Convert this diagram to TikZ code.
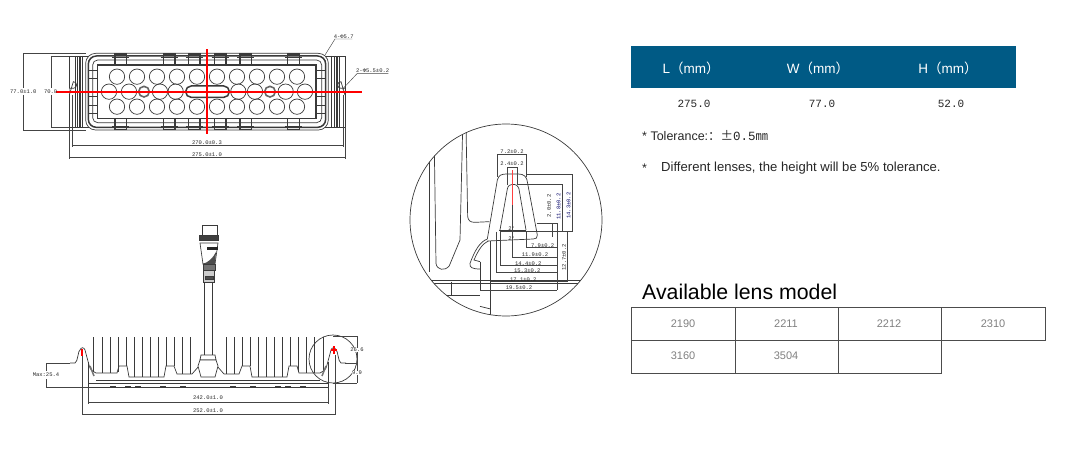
\documentclass[tikz,border=0pt]{standalone}
\usepackage{fontspec}
\setmainfont{Liberation Sans}
\newfontfamily\dimfont{Liberation Mono}
\newfontfamily\cjkfont{Noto Sans CJK SC}
\usetikzlibrary{calc}
\definecolor{headblue}{HTML}{005A85}
\definecolor{partline}{HTML}{3A3A3A}
\definecolor{dimline}{HTML}{444444}
\definecolor{cellgray}{HTML}{808080}
\tikzset{
	part/.style={draw=partline, line width=0.7pt},
	heavy/.style={draw=partline, line width=1.5pt},
	dimen/.style={draw=dimline, line width=0.45pt},
	redaxis/.style={draw=red, line width=1.3pt},
	dimtext/.style={font=\dimfont\fontsize{5.5}{6}\selectfont, text=black!85, inner sep=0pt},
	cell/.style={draw=black!70, line width=0.9pt},
	celltext/.style={font=\fontsize{11}{13}\selectfont, text=cellgray, inner sep=0pt},
	headtext/.style={font=\fontsize{13.5}{15}\selectfont, text=white, inner sep=0pt},
	valtext/.style={font=\dimfont\fontsize{11}{13}\selectfont, text=black!85, inner sep=0pt}
}
% left half of the side view, mirrored for the right half
\def\halfprofile{
	\draw[part] (70,363) -- (75,363) .. controls (78,362) and (78,350) .. (80,350) .. controls (81,347) and (84,347) .. (85,350) -- (89,365) .. controls (90,370) and (93,372) .. (96,373) -- (117,373) -- (119,366) -- (127,366) -- (129,377) -- (164,377) -- (166,366) -- (174,366) -- (177,374) -- (192,374) -- (199,366);
	\foreach \x/\y in {93/372,102/373,110/373,118/372,126/366,134/377,142/377,150/377,158/377,166/366,174/366,182/374,190/374}{
		\draw[part] (\x,337) -- (\x,\y);
	}
	\draw[part] (88,362) -- (88,387);
	\draw[heavy, draw=black!55] (90,366) -- (94,376);
	\foreach \x in {110,125,135,160,180}{
		\draw[part, line width=1pt] (\x,386) -- (\x+6,386);
	}
}
\begin{document}
\begin{tikzpicture}[x=1pt,y=-1pt]
	\useasboundingbox (0,0) rectangle (1080,463);
	%%%%% TOP VIEW %%%%%
	\begin{scope}[shift={(20,20)},scale=1/3]
		\draw[part] (148,108) rectangle (975,322);
		\draw[part, fill=white] (148,205) -- (160,205) arc (90:-90:10) -- (148,225);
		\draw[part, fill=white] (975,205) -- (963,205) arc (90:270:10) -- (975,225);
		\foreach \x in {172,180,188,935,943,951}{
			\draw[heavy] (\x,108) -- (\x,322);
		}
		\foreach \x in {165,958}{
			\draw[part] (\x,108) -- (\x,322);
		}
		\draw[part, fill=white, rounded corners=10pt] (197,100) rectangle (925,330);
		\draw[heavy, rounded corners=8pt] (205,108) rectangle (917,322);
		\draw[part, rounded corners=5pt] (218,120) rectangle (905,308);
		\draw[heavy] (232,135) rectangle (888,295);
		\foreach \x in {285,430,505,583,660,803}{
			\draw[heavy] (\x,102) rectangle (\x+35,135);
			\draw[heavy] (\x,295) rectangle (\x+35,328);
			\draw[part] (\x-8,112) -- (\x+43,112);
			\draw[part] (\x-8,318) -- (\x+43,318);
		}
		\foreach \y in {150,175,230,255,280}{
			\draw[part] (208,\y) -- (232,\y);
			\draw[part] (888,\y) -- (914,\y);
		}
		\foreach \x in {291,351,411,471,531,591,651,711,771,831}{
			\draw[part] (\x,170) circle (23);
			\draw[part] (\x,260) circle (23);
		}
		\foreach \x in {267,327,420,467,655,705,797,855}{
			\draw[part] (\x,215) circle (23);
		}
		\draw[draw=black!60, line width=1.6pt] (372,215) circle (16);
		\draw[draw=black!60, line width=1.6pt] (750,215) circle (16);
		\draw[heavy, rounded corners=5.5pt] (497,198) rectangle (628,232);
		% dimensions
		\draw[dimen] (10,100) -- (197,100);
		\draw[dimen] (10,330) -- (197,330);
		\draw[dimen] (10,100) -- (10,205);
		\draw[dimen] (10,225) -- (10,330);
		\draw[dimen] (93,108) -- (148,108);
		\draw[dimen] (93,322) -- (148,322);
		\draw[dimen] (93,108) -- (93,205);
		\draw[dimen] (93,225) -- (93,322);
		\draw[dimen] (158,225) -- (158,382);
		\draw[dimen] (970,225) -- (970,382);
		\draw[dimen] (158,377) -- (970,377);
		\draw[dimen] (148,322) -- (148,416);
		\draw[dimen] (975,322) -- (975,416);
		\draw[dimen] (148,413) -- (975,413);
		\draw[dimen] (915,105) -- (945,57) -- (997,57);
		\draw[dimen] (967,208) -- (1012,160) -- (1105,160);
		\draw[redaxis] (108,216) -- (1025,216);
		\draw[redaxis] (561,88) -- (561,342);
		\node[dimtext] (topwidth) at (10,215) {77.0±1.0};
		\node[dimtext] (topinner) at (92,215) {70.0};
		\node[dimtext] (toppitch) at (561,368) {270.0±0.3};
		\node[dimtext] (toplength) at (561,405) {275.0±1.0};
		\node[dimtext] (topcorner) at (971,50) {4-Φ5.7};
		\node[dimtext] (tophole) at (1058,153) {2-Φ5.5±0.2};
	\end{scope}
	%%%%% SIDE VIEW %%%%%
	\halfprofile
	\begin{scope}[xshift=416pt,xscale=-1]
		\halfprofile
	\end{scope}
	\draw[part] (88,383) -- (328,383);
	\draw[part] (88,387) -- (328,387);
	\draw[part] (96,380) -- (320,380);
	\draw[part] (328,362) -- (328,387);
	% connector and cable
	\draw[part] (204,282) -- (204,355);
	\draw[part] (212,282) -- (212,355);
	\draw[part] (202,225) rectangle (217,235);
	\draw[part, fill=black!75] (199,235) rectangle (218,240);
	\draw[part] (200,243) -- (218,243) -- (215,264) -- (203,264) -- cycle;
	\draw[fill=black!85, draw=none] (207,247) rectangle (218,250);
	\draw[fill=black!70, draw=none] (202,264) .. controls (208,263) and (213,258) .. (216,252) -- (215,264) -- cycle;
	\draw[part, fill=black!55] (203,264) rectangle (215,270);
	\draw[part, fill=black!20] (203,270) rectangle (214,282);
	\draw[part, fill=black!70] (205,276) rectangle (213,279);
	\draw[part] (201,355) -- (215,355) -- (216,360) -- (200,360) -- cycle;
	\draw[part, fill=white] (200,360) -- (216,360) -- (218,366) -- (215,377) -- (201,377) -- (198,366) -- cycle;
	% detail circle on the side view
	\draw[part] (333,359) circle (24);
	\draw[dimen] (46,363) -- (70,363);
	\draw[dimen] (46,387) -- (88,387);
	\draw[dimen] (46,363) -- (46,371);
	\draw[dimen] (46,379) -- (46,387);
	\draw[dimen] (88,387) -- (88,404);
	\draw[dimen] (328,387) -- (328,404);
	\draw[dimen] (88,402) -- (328,402);
	\draw[dimen] (82,355) -- (82,415);
	\draw[dimen] (335,355) -- (335,415);
	\draw[dimen] (82,414) -- (335,414);
	\draw[dimen] (333,336) -- (357,336);
	\draw[dimen] (345,363) -- (357,363);
	\draw[dimen] (333,383) -- (357,383);
	\draw[dimen] (357,336) -- (357,383);
	\draw[redaxis] (82,349) -- (82,356);
	\draw[redaxis] (334,346) -- (334,354);
	\draw[redaxis] (331,350) -- (337,350);
	\node[dimtext] (sideheight) at (46,375) {Max:25.4};
	\node[dimtext] (sideplate) at (208,398) {242.0±1.0};
	\node[dimtext] (sidelength) at (208,411) {252.0±1.0};
	\node[dimtext, fill=white] (sideear) at (357,350) {26.6};
	\node[dimtext, fill=white] (sidefoot) at (357,373) {9.9};
	%%%%% DETAIL %%%%%
	\begin{scope}[shift={(400,115)},scale=1/3]
		\begin{scope}
			\clip (318,315) circle (288);
			\draw[part] (87,120) -- (87,470);
			\draw[part] (103,100) -- (108,445) .. controls (110,465) and (135,470) .. (148,452) -- (180,375) -- (188,40);
			\draw[part] (198,30) -- (203,305) .. controls (205,318) and (212,322) .. (225,322) -- (268,320);
			\draw[part] (262,372) -- (292,195) .. controls (296,180) and (305,177) .. (320,177) -- (355,177) .. controls (372,177) and (378,185) .. (381,195) -- (412,360) .. controls (413,368) and (408,372) .. (400,372) -- (262,378);
			\draw[part] (300,345) -- (322,222) .. controls (324,212) and (330,208) .. (338,208) .. controls (348,208) and (354,212) .. (357,222) -- (378,345);
			\draw[part] (298,346) -- (378,346);
			\draw[part] (262,372) .. controls (240,380) and (225,405) .. (210,445) .. controls (208,458) and (218,462) .. (240,462);
			\draw[part] (265,378) .. controls (248,385) and (235,405) .. (222,435) -- (240,440);
			\draw[part] (20,495) -- (620,495);
			\draw[part] (20,505) -- (620,505);
			\draw[part] (155,500) -- (155,540);
			\draw[part] (240,440) -- (240,526);
			\draw[part] (272,378) -- (272,600);
			\draw[part] (120,540) -- (240,540);
			\draw[part] (240,574) -- (272,582);
		\end{scope}
		\draw[part] (318,315) circle (288);
		% dimensions
		\draw[dimen] (293,118) -- (380,118);
		\draw[dimen] (293,118) -- (293,185);
		\draw[dimen] (380,118) -- (380,185);
		\draw[dimen] (322,157) -- (352,157);
		\draw[dimen] (322,157) -- (322,210);
		\draw[dimen] (352,157) -- (352,210);
		\draw[dimen] (380,177) -- (517,177);
		\draw[dimen] (517,177) -- (517,350);
		\draw[dimen] (350,208) -- (487,208);
		\draw[dimen] (487,208) -- (487,350);
		\draw[dimen] (410,325) -- (472,325);
		\draw[dimen] (458,325) -- (458,365);
		\draw[dimen] (300,350) -- (517,350);
		\draw[dimen] (503,350) -- (503,500);
		\draw[dimen] (472,325) -- (472,526);
		\draw[dimen] (380,350) -- (380,398);
		\draw[dimen] (337,270) -- (337,428);
		\draw[dimen] (300,350) -- (300,450);
		\draw[dimen] (290,350) -- (290,473);
		\draw[dimen] (380,398) -- (472,398);
		\draw[dimen] (337,428) -- (472,428);
		\draw[dimen] (300,450) -- (472,450);
		\draw[dimen] (290,473) -- (472,473);
		\draw[dimen] (272,500) -- (503,500);
		\draw[dimen] (240,526) -- (472,526);
		\draw[redaxis, draw=red!75] (337,165) -- (337,270);
		\node[dimtext] (detailtop) at (336,110) {7.2±0.2};
		\node[dimtext] (detailtip) at (336,147) {2.4±0.2};
		\node[dimtext, rotate=90] (detailstep) at (447,273) {2.0±0.2};
		\node[dimtext, rotate=90, text=blue!40!black] (detailinner) at (476,275) {11.8±0.2};
		\node[dimtext, rotate=90, text=blue!40!black] (detailouter) at (506,272) {14.3±0.2};
		\node[dimtext, rotate=90] (detailbase) at (492,427) {12.7±0.2};
		\node[dimtext] (detaila) at (428,392) {7.9±0.2};
		\node[dimtext] (detailb) at (405,420) {11.9±0.2};
		\node[dimtext] (detailc) at (385,445) {14.4±0.2};
		\node[dimtext] (detaild) at (382,466) {15.3±0.2};
		\node[dimtext] (detaile) at (370,493) {17.1±0.2};
		\node[dimtext] (detailf) at (357,518) {19.5±0.2};
		\node[dimtext] (anglea) at (335,342) {2°};
		\node[dimtext] (angleb) at (335,372) {2°};
	\end{scope}
	%%%%% SIZE TABLE %%%%%
	\fill[headblue] (631,46) rectangle (1016,88);
	\node[headtext] (headl) at (691,68) {L{\cjkfont（}mm{\cjkfont）}};
	\node[headtext] (headw) at (818,68) {W{\cjkfont（}mm{\cjkfont）}};
	\node[headtext] (headh) at (948,68) {H{\cjkfont（}mm{\cjkfont）}};
	\node[valtext] (vall) at (694,104) {275.0};
	\node[valtext] (valw) at (822,104) {77.0};
	\node[valtext] (valh) at (951,104) {52.0};
	\node[anchor=west, inner sep=0pt, font=\fontsize{12.5}{14}\selectfont, text=black!85] (tolnote) at (642,136) {* Tolerance:{\cjkfont：}{\cjkfont ±}{\dimfont 0.5}{\cjkfont ㎜}};
	\node[anchor=west, inner sep=0pt, font=\fontsize{12.5}{14}\selectfont, text=black!85] (lensstar) at (642,168) {*};
	\node[anchor=west, inner sep=0pt, font=\fontsize{13.1}{15}\selectfont, text=black!85] (lensnote) at (661,168) {Different lenses, the height will be 5\% tolerance.};
	%%%%% LENS TABLE %%%%%
	\node[anchor=west, inner sep=0pt, font=\fontsize{21.3}{24}\selectfont] (lenstitle) at (642,292) {Available lens model};
	\draw[cell] (631,307) rectangle (1045,340);
	\draw[cell] (631,340) rectangle (941,373);
	\draw[cell] (735,307) -- (735,373);
	\draw[cell] (838,307) -- (838,373);
	\draw[cell] (941,307) -- (941,340);
	\node[celltext] (lensa) at (683,324) {2190};
	\node[celltext] (lensb) at (786,324) {2211};
	\node[celltext] (lensc) at (889,324) {2212};
	\node[celltext] (lensd) at (993,324) {2310};
	\node[celltext] (lense) at (683,356) {3160};
	\node[celltext] (lensf) at (786,356) {3504};
\end{tikzpicture}
\end{document}
